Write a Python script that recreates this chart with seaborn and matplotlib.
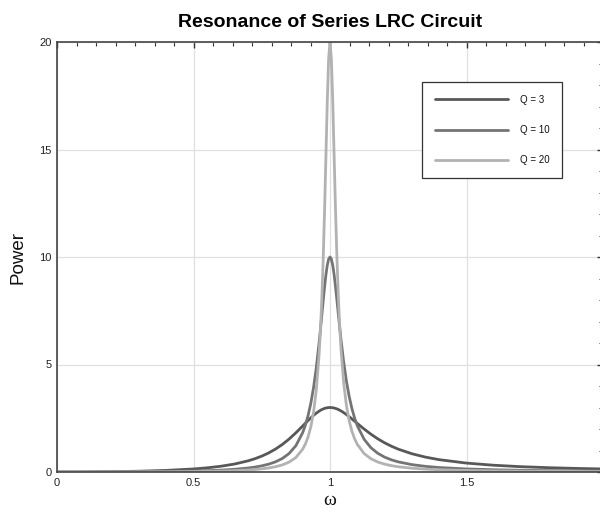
import pandas as pd
import matplotlib
matplotlib.use('Agg')
import matplotlib.pyplot as plt
from matplotlib.ticker import AutoMinorLocator
import seaborn as sns

# 频率点 (omega)
omega = [0.0, 0.1, 0.2, 0.3, 0.4, 0.5, 0.55, 0.6, 0.65, 0.7, 0.725, 0.75, 0.775, 0.8,
         0.825, 0.85, 0.875, 0.9, 0.91, 0.92, 0.93, 0.94, 0.95, 0.96, 0.965, 0.97,
         0.975, 0.98, 0.985, 0.99, 0.995, 1.0, 1.005, 1.01, 1.015, 1.02, 1.025, 1.03,
         1.035, 1.04, 1.05, 1.06, 1.07, 1.08, 1.09, 1.1, 1.125, 1.15, 1.175, 1.2,
         1.225, 1.25, 1.3, 1.35, 1.4, 1.5, 1.6, 1.7, 1.8, 1.9, 2.0]

# 各 Q 值的功率曲线
power_q3 = [0.0, 0.003, 0.014, 0.036, 0.074, 0.141, 0.194, 0.267, 0.370, 0.519,
            0.618, 0.738, 0.885, 1.063, 1.277, 1.531, 1.823, 2.141, 2.271, 2.398,
            2.521, 2.636, 2.740, 2.830, 2.869, 2.903, 2.932, 2.957, 2.976, 2.989,
            2.997, 3.0, 2.997, 2.989, 2.976, 2.958, 2.936, 2.909, 2.877, 2.843,
            2.763, 2.673, 2.575, 2.472, 2.366, 2.259, 1.998, 1.757, 1.543, 1.358,
            1.199, 1.063, 0.849, 0.691, 0.573, 0.414, 0.314, 0.247, 0.201, 0.167, 0.141]
power_q10 = [0.0, 0.001, 0.004, 0.011, 0.023, 0.044, 0.062, 0.087, 0.125, 0.185,
             0.228, 0.286, 0.363, 0.471, 0.626, 0.858, 1.223, 1.833, 2.189, 2.640,
             3.215, 3.947, 4.870, 5.999, 6.632, 7.292, 7.959, 8.596, 9.163, 9.612,
             9.901, 10.0, 9.902, 9.619, 9.186, 8.644, 8.039, 7.410, 6.786, 6.190,
             5.120, 4.238, 3.529, 2.964, 2.514, 2.153, 1.521, 1.128, 0.870, 0.692,
             0.565, 0.471, 0.343, 0.262, 0.208, 0.142, 0.104, 0.080, 0.064, 0.053, 0.044]
power_q20 = [0.0, 0.0005, 0.002, 0.005, 0.011, 0.022, 0.031, 0.044, 0.063, 0.094,
             0.116, 0.146, 0.187, 0.244, 0.328, 0.458, 0.673, 1.062, 1.309, 1.646,
             2.118, 2.804, 3.837, 5.453, 6.597, 8.048, 9.873, 12.10, 14.65, 17.22,
             19.23, 20.0, 19.23, 17.27, 14.76, 12.29, 10.12, 8.339, 6.910, 5.776,
             4.156, 3.106, 2.399, 1.906, 1.549, 1.284, 0.858, 0.616, 0.465, 0.365,
             0.295, 0.244, 0.176, 0.134, 0.106, 0.072, 0.053, 0.040, 0.032, 0.027, 0.022]

labels = ['Q = 3', 'Q = 10', 'Q = 20']
colors = ['#585858', '#747474', '#b2b2b2']

x_ticks = [0, 0.5, 1, 1.5, 2]
x_ticklabels = ['0', '0.5', '1', '1.5', '']
y_ticks = [0, 5, 10, 15, 20]

df = pd.concat([
    pd.DataFrame({'omega': omega, 'power': p, 'Q': lab})
    for p, lab in zip([power_q3, power_q10, power_q20], labels)
])

sns.set_style('white')
plt.rcParams['font.family'] = ['Liberation Sans', 'DejaVu Sans']
plt.rcParams['text.color'] = '#111111'
plt.rcParams['axes.labelcolor'] = '#111111'

fig = plt.figure(figsize=(6, 5.15), dpi=100)
ax = fig.add_axes([57 / 600, 43 / 515, 546 / 600, 430 / 515])

sns.lineplot(data=df, x='omega', y='power', hue='Q', palette=colors,
             linewidth=2, ax=ax, legend=True, sort=False)

ax.set_xlim(0, 2)
ax.set_ylim(0, 20)
ax.set_xticks(x_ticks)
ax.set_xticklabels(x_ticklabels)
ax.set_yticks(y_ticks)
ax.set_yticklabels([str(v) for v in y_ticks])
ax.xaxis.set_minor_locator(AutoMinorLocator(7))
ax.yaxis.set_minor_locator(AutoMinorLocator(5))
ax.grid(True, which='major', color='#e0e0e0', linewidth=0.9)
ax.tick_params(which='both', direction='in', top=True, right=True,
               color='#333333', labelsize=8, labelcolor='#222222', pad=4)
ax.tick_params(which='major', length=4, width=1)
ax.tick_params(which='minor', length=3, width=0.8)
for s in ax.spines.values():
    s.set_color('#444444')
    s.set_linewidth(1.2)

ax.set_xlabel('ω', fontsize=14, family=['Liberation Serif', 'DejaVu Serif'], labelpad=3)
ax.set_ylabel('Power', fontsize=13.5, labelpad=9)
ax.set_title('Resonance of Series LRC Circuit', fontsize=14, fontweight='bold',
             pad=11, color='black')

leg = ax.legend(loc='upper left', bbox_to_anchor=(422 / 600, 1 - 82 / 515),
                bbox_transform=fig.transFigure, fontsize=7, handlelength=7.5,
                handletextpad=1.3, labelspacing=2.1, borderpad=1.3,
                borderaxespad=0, fancybox=False, framealpha=1, edgecolor='#333333')
leg.get_frame().set_linewidth(0.9)
leg.set_title(None)

fig.savefig('out.png', dpi=100)
